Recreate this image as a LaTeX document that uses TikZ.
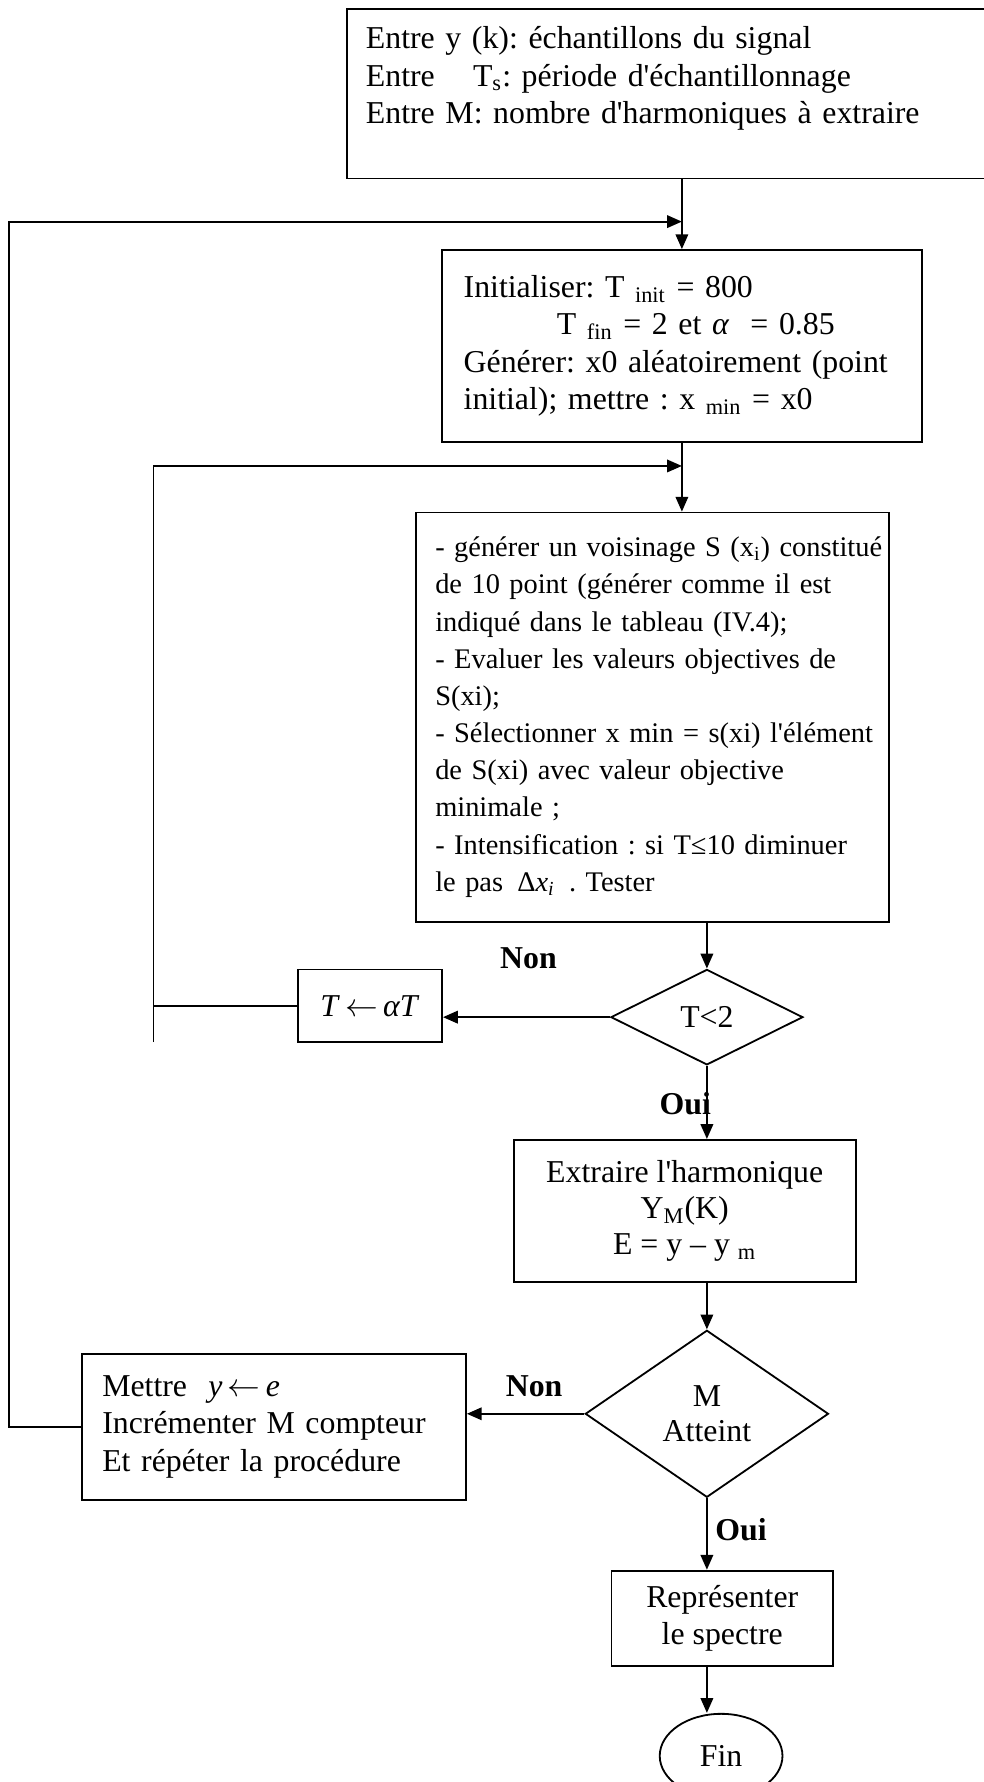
\documentclass[tikz,border=0pt]{standalone}
\usepackage{fontspec}
\setmainfont{Liberation Serif}
\usetikzlibrary{arrows.meta,shapes.geometric}

\newlength{\vw}
\setlength{\vw}{191pt}
\newcommand{\jl}[1]{\makebox[\vw][s]{#1}}
\newcommand{\ap}{\textquotesingle}
\newcommand{\fg}{\,$\leftarrow$\,}
\frenchspacing

\begin{document}
\begin{tikzpicture}[x=0.5pt,y=-0.5pt,->,>={Triangle[length=6.5pt,width=5.5pt]},
  line width=0.8pt,
  every node/.style={font=\fontsize{14}{16.5}\selectfont}]
  \tikzstyle{bloc}=[draw,rectangle,inner sep=0pt]
  \tikzstyle{choix}=[draw,diamond,inner sep=0pt,align=center]
  \tikzstyle{etiq}=[font=\fontsize{14}{16}\selectfont\bfseries]

  \useasboundingbox (0,0) rectangle (865,1568);

  \node[bloc,minimum width=287.5pt,minimum height=74.5pt,text width=270.5pt,align=left]
    (entree) at (592.5,82.5)
    {Entre y (k): échantillons du signal\\
     Entre\hspace{1.2em}T\textsubscript{s}: période d\ap échantillonnage\\
     Entre M: nombre d\ap harmoniques à extraire\\ \mbox{}};
  \node[bloc,minimum width=211pt,minimum height=84.5pt,text width=192pt,align=left]
    (init) at (600,304.5)
    {Initialiser: T \textsubscript{init} = 800\\
     \hspace*{41pt}T \textsubscript{fin} = 2 et \textit{α} \ = 0.85\\
     Générer: x0 aléatoirement (point\\
     initial); mettre : x \textsubscript{min} = x0};
  \node[bloc,minimum width=208pt,minimum height=180pt,text width=191pt,align=left,
    font=\fontsize{12.5}{16.35}\selectfont] (voisin) at (574,631)
    {\jl{- générer un voisinage S (x\textsubscript{i}) constitué}\\
     \jl{de 10 point (générer comme il est}\\
     indiqué dans le tableau (IV.4);\\
     \jl{- Evaluer les valeurs objectives de}\\
     S(xi);\\
     \jl{- Sélectionner x min = s(xi) l\ap élément}\\
     de S(xi) avec valeur objective\\
     minimale ;\\
     \jl{- Intensification : si T≤10 diminuer}\\
     le pas \,Δ\textit{x}\textsubscript{\textit{i}}\, . Tester};
  \node[choix,minimum width=84.5pt,minimum height=42pt] (test) at (622,895) {T<2};
  \node[bloc,minimum width=63.5pt,minimum height=32pt] (maj) at (325.5,885)
    {\textit{T}\fg\textit{αT}};
  \node[bloc,minimum width=150.5pt,minimum height=62.5pt,align=center,
    font=\fontsize{14}{16}\selectfont] (extr) at (602.5,1065.5)
    {Extraire l\ap harmonique\\
     Y\textsubscript{M}(K)\\
     E = y – y \textsubscript{m}};
  \node[choix,minimum width=107pt,minimum height=73.5pt,
    font=\fontsize{14}{15.5}\selectfont] (atteint) at (622,1244) {M\\Atteint};
  \node[bloc,minimum width=169pt,minimum height=64pt,text width=151pt,align=left]
    (mettre) at (241,1255.5)
    {Mettre \ \textit{y}\fg\textit{e}\\
     Incrémenter M compteur\\
     Et répéter la procédure};
  \node[bloc,minimum width=97.5pt,minimum height=42pt,align=center,
    font=\fontsize{14}{16}\selectfont] (repr) at (635.5,1424)
    {Représenter\\le spectre};
  \node[draw,ellipse,minimum width=54pt,minimum height=37pt,inner sep=0pt]
    (fin) at (634.5,1545) {Fin};

  \node[etiq] (non1) at (465,843) {Non};
  \node[etiq] (oui1) at (603,971) {Oui};
  \node[etiq] (non2) at (470,1220) {Non};
  \node[etiq] (oui2) at (652,1346) {Oui};

  \coordinate (j1) at (600,195);
  \coordinate (l1) at (8,195);
  \coordinate (j2) at (600,410);
  \coordinate (l2) at (135,917);

  \draw (init.north |- entree.south) -- (init.north);
  \draw (mettre.west) -| (l1) -- (j1);
  \draw (init.south) -- (init.south |- voisin.north);
  \draw[-] (maj.west) -- (maj.west -| l2);
  \draw (l2) |- (j2);
  \draw (test.north |- voisin.south) -- (test.north);
  \draw (test.west) -- (test.west -| maj.east);
  \draw (test.south) -- (test.south |- extr.north);
  \draw (atteint.north |- extr.south) -- (atteint.north);
  \draw (atteint.west) -- (atteint.west -| mettre.east);
  \draw (atteint.south) -- (atteint.south |- repr.north);
  \draw (atteint.south |- repr.south) -- (atteint.south |- fin.north);
\end{tikzpicture}
\end{document}
